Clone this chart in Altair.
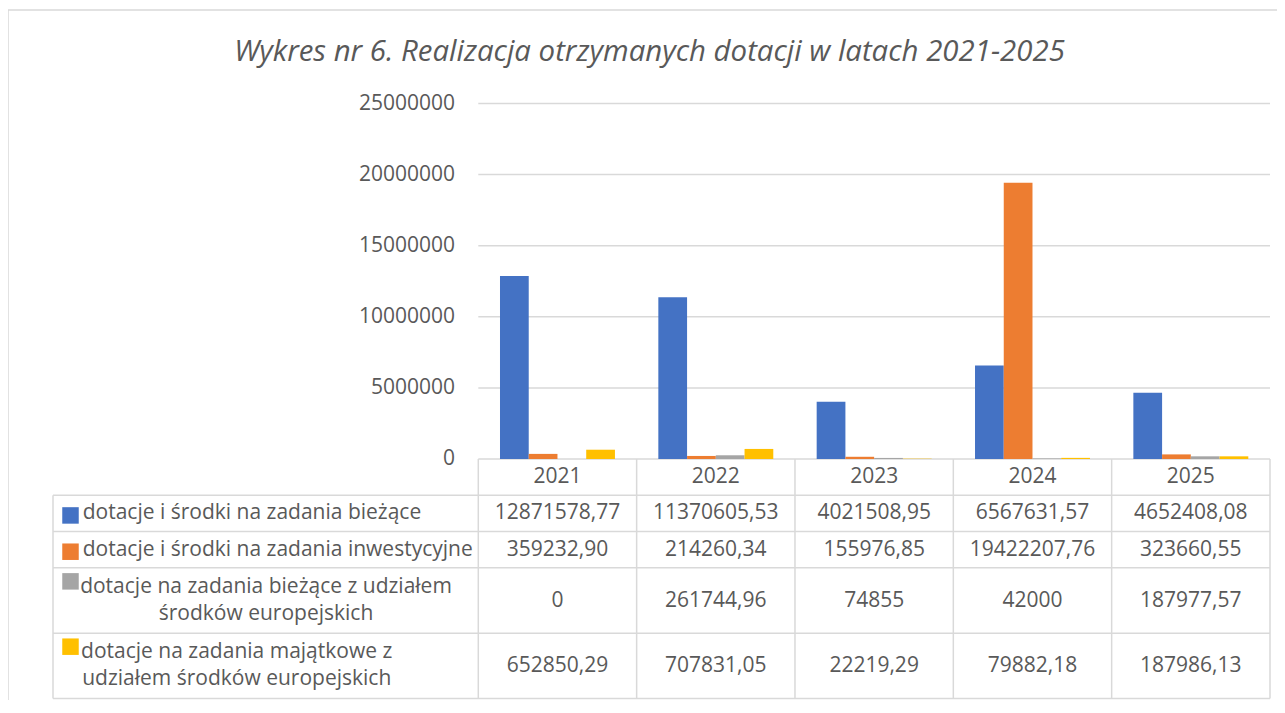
import altair as alt
import pandas as pd

# ---------------- data ----------------
YEARS = ["2021", "2022", "2023", "2024", "2025"]
SERIES = [
    "dotacje i środki na zadania bieżące",
    "dotacje i środki na zadania inwestycyjne",
    "dotacje na zadania bieżące z udziałem\nśrodków europejskich",
    "dotacje na zadania majątkowe z\nudziałem środków europejskich",
]
COLORS = ["#4472C4", "#ED7D31", "#A5A5A5", "#FFC000"]
BIEZACE = [12871578.77, 11370605.53, 4021508.95, 6567631.57, 4652408.08]
INWESTYCYJNE = [359232.90, 214260.34, 155976.85, 19422207.76, 323660.55]
BIEZACE_UE = [0, 261744.96, 74855, 42000, 187977.57]
MAJATKOWE_UE = [652850.29, 707831.05, 22219.29, 79882.18, 187986.13]
VALUES = [BIEZACE, INWESTYCYJNE, BIEZACE_UE, MAJATKOWE_UE]
Y_TICKS = [0, 5000000, 10000000, 15000000, 20000000, 25000000]
TITLE = "Wykres nr 6. Realizacja otrzymanych dotacji w latach 2021-2025"

# ---------------- layout ----------------
W, H_TOP, H_TAB = 1217, 355.5, 239.5
PAD_TOP = 95.5
LABEL_PX = 425.3
COL_PX = (W - LABEL_PX) / 5
LW = LABEL_PX / COL_PX                  # label column width in column units
ROW_EDGES = [0, 1, 2, 3, 4.8, 6.6]      # table rows in row units
ROW_PX = H_TAB / ROW_EDGES[-1]
LINE_H = 27
BAR_PAD, BAR_W = 0.137, 0.1815
GRID = "#d9d9d9"
TXT = "#595959"
FONT = "Open Sans"


def ux(px):
    """pixel offset from table's left edge -> column units"""
    return px / COL_PX - LW


X = alt.Scale(domain=[-LW, 5], range=[0, W], nice=False, zero=False)
YV = alt.Scale(domain=[0, 25000000], range=[H_TOP, 0], nice=False, zero=False)
YT = alt.Scale(domain=[0, ROW_EDGES[-1]], range=[H_TOP, H_TOP + H_TAB], nice=False, zero=False)


def fmt(v):
    if float(v).is_integer():
        return str(int(v))
    return f"{v:.2f}".replace(".", ",")


# bars
bar_rows = []
for k, s in enumerate(SERIES):
    for i, y in enumerate(YEARS):
        x0 = i + BAR_PAD + k * BAR_W
        bar_rows.append({"series": s, "year": y, "x0": x0, "x1": x0 + BAR_W,
                         "v": VALUES[k][i], "v0": 0})
bars_df = pd.DataFrame(bar_rows)

grid_df = pd.DataFrame({"v": Y_TICKS[1:], "xa": 0, "xb": 5})
ticks_df = pd.DataFrame({"v": Y_TICKS, "lab": [str(t) for t in Y_TICKS], "x": ux(LABEL_PX - 23.3)})

# table lines
h_rows = [{"r": 0, "xa": 0, "xb": 5}] + [{"r": r, "xa": -LW, "xb": 5} for r in ROW_EDGES[1:]]
hlines_df = pd.DataFrame(h_rows)
v_rows = [{"x": -LW, "ra": ROW_EDGES[1], "rb": ROW_EDGES[-1]}] + \
         [{"x": c, "ra": 0, "rb": ROW_EDGES[-1]} for c in range(6)]
vlines_df = pd.DataFrame(v_rows)

header_df = pd.DataFrame({"t": YEARS, "x": [i + 0.5 for i in range(5)], "r": 0.5})

val_rows = []
for k in range(4):
    rc = (ROW_EDGES[k + 1] + ROW_EDGES[k + 2]) / 2
    for i in range(5):
        val_rows.append({"t": fmt(VALUES[k][i]), "x": i + 0.5, "r": rc})
vals_df = pd.DataFrame(val_rows)

single_rows, double_rows, sq_rows = [], [], []
double_centers = {2: 213.0, 3: 183.7}
for k, s in enumerate(SERIES):
    top, bot = ROW_EDGES[k + 1], ROW_EDGES[k + 2]
    rc = (top + bot) / 2
    if "\n" in s:
        # first line placed so that the two-line block is centred in the row
        double_rows.append({"t": s, "x": ux(double_centers[k]), "r": rc - (LINE_H / 2) / ROW_PX})
        sq_rows.append({"series": s, "x": ux(17.5), "r": top + 13.5 / ROW_PX})
    else:
        single_rows.append({"t": s, "x": ux(29.7), "r": rc})
        sq_rows.append({"series": s, "x": ux(17.5), "r": rc + 2 / ROW_PX})
single_df = pd.DataFrame(single_rows)
double_df = pd.DataFrame(double_rows)
sq_df = pd.DataFrame(sq_rows)

one = pd.DataFrame({"a": [0]})

# ---------------- layers ----------------
frame_left = alt.Chart(one).mark_rule(color=GRID, strokeWidth=1.5).encode(
    x=alt.value(-45), y=alt.value(-93.5), y2=alt.value(H_TOP + H_TAB + 30))
frame_top = alt.Chart(one).mark_rule(color=GRID, strokeWidth=1.5).encode(
    x=alt.value(-45), x2=alt.value(W + 60), y=alt.value(-93.5))

grid = alt.Chart(grid_df).mark_rule(color=GRID, strokeWidth=1.5).encode(
    x=alt.X("xa:Q", scale=X, axis=None), x2="xb:Q",
    y=alt.Y("v:Q", scale=YV, axis=None))

ticks = alt.Chart(ticks_df).mark_text(align="right", baseline="middle", font=FONT,
                                      fontSize=21, color=TXT).encode(
    x=alt.X("x:Q", scale=X, axis=None),
    y=alt.Y("v:Q", scale=YV, axis=None),
    text="lab:N")

hlines = alt.Chart(hlines_df).mark_rule(color=GRID, strokeWidth=1.5).encode(
    x=alt.X("xa:Q", scale=X, axis=None), x2="xb:Q",
    y=alt.Y("r:Q", scale=YT, axis=None))

vlines = alt.Chart(vlines_df).mark_rule(color=GRID, strokeWidth=1.5).encode(
    x=alt.X("x:Q", scale=X, axis=None),
    y=alt.Y("ra:Q", scale=YT, axis=None), y2="rb:Q")

bars = alt.Chart(bars_df).mark_bar().encode(
    x=alt.X("x0:Q", scale=X, axis=None), x2="x1:Q",
    y=alt.Y("v:Q", scale=YV, axis=None), y2="v0:Q",
    color=alt.Color("series:N", scale=alt.Scale(domain=SERIES, range=COLORS), legend=None))

header = alt.Chart(header_df).mark_text(align="center", baseline="middle", font=FONT,
                                        fontSize=21, color=TXT).encode(
    x=alt.X("x:Q", scale=X, axis=None),
    y=alt.Y("r:Q", scale=YT, axis=None), text="t:N")

vals = alt.Chart(vals_df).mark_text(align="center", baseline="middle", font=FONT,
                                    fontSize=21, color=TXT).encode(
    x=alt.X("x:Q", scale=X, axis=None),
    y=alt.Y("r:Q", scale=YT, axis=None), text="t:N")

lab1 = alt.Chart(single_df).mark_text(align="left", baseline="middle", font=FONT,
                                      fontSize=21, color=TXT).encode(
    x=alt.X("x:Q", scale=X, axis=None),
    y=alt.Y("r:Q", scale=YT, axis=None), text="t:N")

lab2 = alt.Chart(double_df).mark_text(align="center", baseline="middle", font=FONT,
                                      fontSize=21, color=TXT, lineBreak="\n",
                                      lineHeight=LINE_H).encode(
    x=alt.X("x:Q", scale=X, axis=None),
    y=alt.Y("r:Q", scale=YT, axis=None), text="t:N")

squares = alt.Chart(sq_df).mark_point(shape="square", filled=True, size=272, opacity=1).encode(
    x=alt.X("x:Q", scale=X, axis=None),
    y=alt.Y("r:Q", scale=YT, axis=None),
    color=alt.Color("series:N", scale=alt.Scale(domain=SERIES, range=COLORS), legend=None))

chart = alt.layer(
    frame_left, frame_top, grid, ticks, hlines, vlines, bars,
    header, vals, lab1, lab2, squares
).resolve_scale(y="independent").properties(
    width=W,
    height=H_TOP + H_TAB,
    background="white",
    autosize=alt.AutoSizeParams(type="none"),
    padding={"left": 45, "top": PAD_TOP, "right": 7, "bottom": 1.5},
    title=alt.Title(TITLE, font=FONT, fontSize=29.4, fontStyle="italic", fontWeight="normal",
                    color=TXT, anchor="middle", frame="group", dx=-12, offset=-58.5),
).configure_view(stroke=None)

chart.save("out.html", embed_options={"renderer": "svg", "actions": False})
